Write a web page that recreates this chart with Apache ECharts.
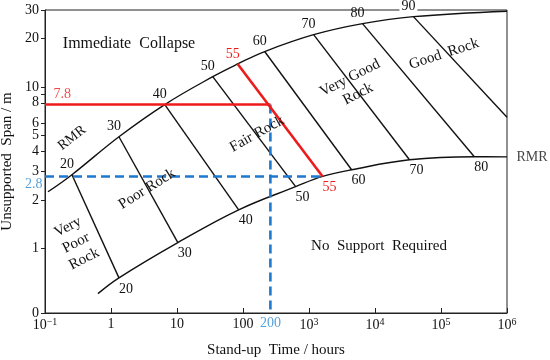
<!DOCTYPE html>
<html>
<head>
<meta charset="utf-8">
<script src="https://cdn.jsdelivr.net/npm/echarts@6/dist/echarts.min.js"></script>
<style>html,body{margin:0;padding:0;background:#fff}#c{width:550px;height:360px}</style>
</head>
<body>
<div id="c"></div>
<script>
// ---- data ----
const xTickValues = [0.1, 1, 10, 100, 1000, 1e4, 1e5, 1e6];
const xTickLabels = ['10{s|−1}', '1', '10', '100', '10{s|3}', '10{s|4}', '10{s|5}', '10{s|6}'];
const yTickValues = [0.4, 1, 2, 3, 4, 5, 6, 8, 10, 20, 30];
const yTickLabels = ['0', '1', '2', '3', '4', '5', '6', '8', '10', '20', '30'];
const yMinorTicks = [0.4, 1, 2, 3, 4, 5, 6, 8, 9, 10, 20, 30];

// upper boundary (immediate collapse)
const upperCurveTime = [0.111, 0.256, 1.32, 6.53, 34.8, 83, 213, 1175, 6470, 38200, 1e6];
const upperCurveSpan = [2.25, 2.87, 4.93, 7.8, 11.6, 13.9, 16.6, 21.1, 24.7, 27.3, 29.5];
// lower boundary (no support required)
const lowerCurveTime = [0.634, 1.32, 10.3, 86, 627, 1607, 4420, 33300, 320000, 1e6];
const lowerCurveSpan = [0.527, 0.66, 1.09, 1.74, 2.42, 2.8, 3.08, 3.55, 3.71, 3.7];

// RMR lines: end points on the upper and lower boundaries
const rmrValues = [20, 30, 40, 50, 55, 60, 70, 80, 90];
const rmrUpperTime = [0.256, 1.32, 6.53, 34.8, 83, 213, 1175, 6470, 38200];
const rmrUpperSpan = [2.87, 4.93, 7.8, 11.6, 13.9, 16.6, 21.1, 24.7, 27.3];
const rmrLowerTime = [1.32, 10.3, 86, 627, 1607, 4420, 33300, 320000, 1e6];
const rmrLowerSpan = [0.66, 1.09, 1.74, 2.42, 2.8, 3.08, 3.55, 3.71, 6.5];
const rmrLowerLabeled = [true, true, true, true, true, true, true, true, false];

// example reading
const exampleRMR = 55;
const exampleSpan = 7.8;       // red horizontal
const exampleTime = 260;       // where the blue vertical is drawn
const exampleTimeLabel = '200';
const noSupportSpan = 2.8;     // blue horizontal

const RED = '#ee1b1b', BLUE = '#1f78cf', BLUE_T = '#2b8ad6';
const FONT = '"Liberation Serif", "Times New Roman", serif';

const zip = (a, b) => a.map((v, i) => [v, b[i]]);
const series = [];

series.push({type: 'line', data: zip(upperCurveTime, upperCurveSpan), smooth: 0.4, symbol: 'none',
  lineStyle: {color: '#111', width: 1.4}, z: 3});
series.push({type: 'line', data: zip(lowerCurveTime, lowerCurveSpan), smooth: 0.4, symbol: 'none',
  lineStyle: {color: '#111', width: 1.4}, z: 3});

rmrValues.forEach((r, i) => {
  const isEx = r === exampleRMR;
  series.push({type: 'line', symbol: 'none',
    data: [[rmrUpperTime[i], rmrUpperSpan[i]], [rmrLowerTime[i], rmrLowerSpan[i]]],
    lineStyle: {color: isEx ? RED : '#111', width: isEx ? 2.6 : 1.4}, z: isEx ? 6 : 3});
});

const iEx = rmrValues.indexOf(exampleRMR);
// blue dashed lines
series.push({type: 'line', symbol: 'none', z: 5,
  data: [[0.1, noSupportSpan], [rmrLowerTime[iEx], noSupportSpan]],
  lineStyle: {color: BLUE, width: 2.6, type: [9, 5]}});
series.push({type: 'line', symbol: 'none', z: 5,
  data: [[exampleTime, exampleSpan], [exampleTime, 0.4]],
  lineStyle: {color: BLUE, width: 2.6, type: [9, 5]}});
// red horizontal
series.push({type: 'line', symbol: 'none', z: 6,
  data: [[0.1, exampleSpan], [exampleTime, exampleSpan]],
  lineStyle: {color: RED, width: 2.6}});

// RMR number labels
const lblBase = {show: true, position: 'inside', fontFamily: FONT, fontSize: 14, color: '#111',
  textBorderWidth: 0, textBorderColor: 'transparent', opacity: 1};
const upperLabels = rmrValues.map((r, i) => ({
  value: [rmrUpperTime[i], rmrUpperSpan[i]],
  label: Object.assign({}, lblBase, {formatter: String(r), offset: [-5, -10],
    color: r === exampleRMR ? RED : '#111',
    backgroundColor: r === 90 ? '#fff' : 'transparent', padding: r === 90 ? [0, 2] : 0})
}));
const lowerLabels = rmrValues.map((r, i) => rmrLowerLabeled[i] ? ({
  value: [rmrLowerTime[i], rmrLowerSpan[i]],
  label: Object.assign({}, lblBase, {formatter: String(r), offset: [7, 11],
    color: r === exampleRMR ? RED : '#111'})
}) : null).filter(Boolean);
const hiddenItem = {color: 'rgba(0,0,0,0)'};
series.push({type: 'scatter', symbolSize: 1, itemStyle: hiddenItem, clip: false, z: 8,
  data: upperLabels.concat(lowerLabels), silent: true});

// value annotations
series.push({type: 'scatter', symbolSize: 1, itemStyle: hiddenItem, clip: false, z: 8, silent: true,
  data: [
    {value: [0.1, exampleSpan], label: {show: true, position: 'right', distance: 8, offset: [0, -10],
      formatter: String(exampleSpan), color: RED, fontFamily: FONT, fontSize: 14}},
    {value: [0.1, noSupportSpan], label: {show: true, position: 'left', distance: 2, offset: [0, 8],
      formatter: String(noSupportSpan), color: BLUE_T, fontFamily: FONT, fontSize: 14}},
    {value: [exampleTime, 0.4], label: {show: true, position: 'bottom', distance: 3,
      formatter: exampleTimeLabel, color: BLUE_T, fontFamily: FONT, fontSize: 14}},
    {value: [1e6, lowerCurveSpan[lowerCurveSpan.length - 1]], label: {show: true, position: 'right', distance: 9,
      formatter: 'RMR', color: '#111', fontFamily: FONT, fontSize: 14}}
  ]});

function txt(text, x, y, rotDeg, size) {
  return {type: 'text', x: x, y: y, rotation: (rotDeg || 0) * Math.PI / 180, z: 10,
    style: {text: text, font: (size || 15) + 'px ' + FONT, fill: '#111', align: 'center',
      verticalAlign: 'middle', lineHeight: 18}};
}

const option = {
  animation: false,
  backgroundColor: '#fff',
  grid: {left: 45, right: 43, top: 10, bottom: 47, show: true, borderColor: '#222', borderWidth: 1,
    containLabel: false, outerBoundsMode: 'none'},
  xAxis: {
    type: 'log', logBase: 10, min: 0.1, max: 1e6,
    name: 'Stand-up  Time / hours', nameLocation: 'middle', nameGap: 30,
    nameTextStyle: {fontFamily: FONT, fontSize: 15, color: '#111'},
    axisLine: {lineStyle: {color: '#222', width: 1}},
    axisTick: {inside: true, length: 5, lineStyle: {color: '#222'}, customValues: xTickValues},
    axisLabel: {customValues: xTickValues, margin: 4, fontFamily: FONT, fontSize: 14, color: '#111',
      formatter: v => { const i = xTickValues.findIndex(t => Math.abs(Math.log10(t) - Math.log10(v)) < 0.01); return i >= 0 ? xTickLabels[i] : ''; },
      rich: {s: {fontFamily: FONT, fontSize: 10, verticalAlign: 'top', padding: [0, 0, 6, 0], color: '#111'}}},
    splitLine: {show: false}, minorTick: {show: false}
  },
  yAxis: {
    type: 'log', logBase: 10, min: 0.4, max: 30,
    name: 'Unsupported  Span / m', nameLocation: 'middle', nameGap: 30,
    nameTextStyle: {fontFamily: FONT, fontSize: 15, color: '#111'},
    axisLine: {show: true, lineStyle: {color: '#222', width: 1}},
    axisTick: {show: true, inside: false, length: 4, lineStyle: {color: '#222'}, customValues: yMinorTicks},
    axisLabel: {customValues: yTickValues, margin: 6, fontFamily: FONT, fontSize: 14, color: '#111',
      formatter: v => { const i = yTickValues.findIndex(t => Math.abs(Math.log10(t) - Math.log10(v)) < 0.01); return i >= 0 ? yTickLabels[i] : ''; }},
    splitLine: {show: false}
  },
  graphic: [
    txt('Immediate  Collapse', 129, 44, 0, 16),
    txt('RMR', 72, 138, 38, 14),
    txt('Very\nPoor\nRock', 76, 243, 27, 15),
    txt('Poor Rock', 147, 189, 32, 15),
    txt('Fair Rock', 257, 134, 29, 15),
    txt('Very Good\nRock', 354, 86, 27, 15),
    txt('Good  Rock', 444, 54, 18, 15),
    txt('No  Support  Required', 379, 246, 0, 15)
  ],
  series: series
};

const chart = echarts.init(document.getElementById('c'), null, {renderer: 'canvas'});
chart.setOption(option);
</script>
</body>
</html>
